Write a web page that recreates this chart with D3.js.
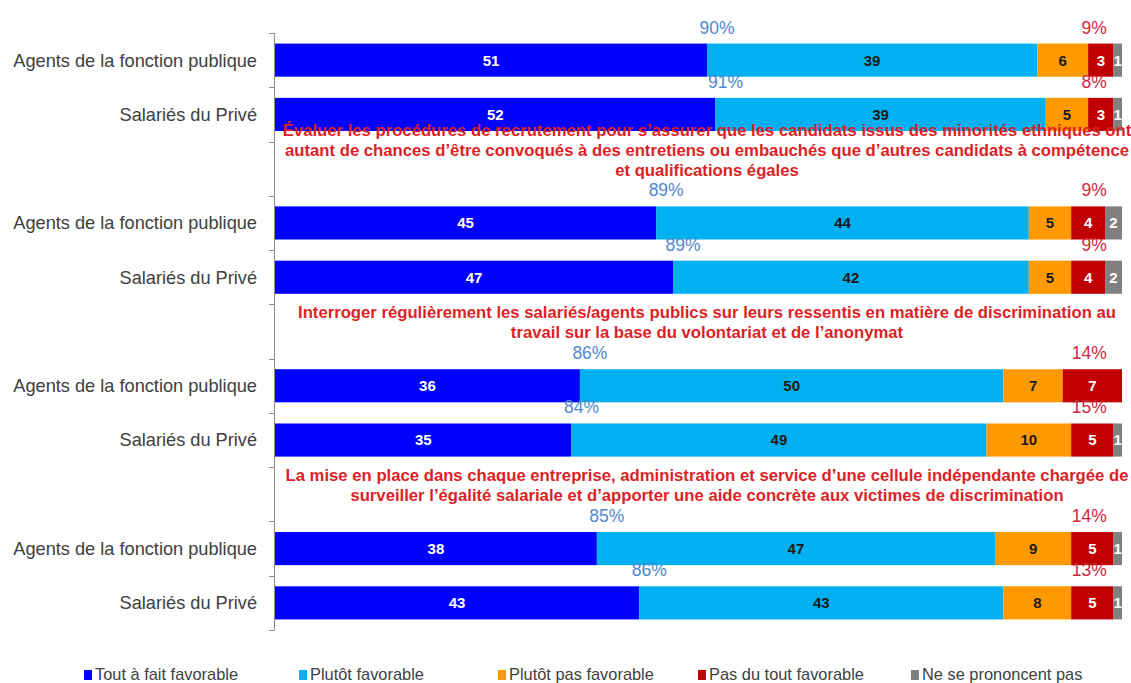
<!DOCTYPE html>
<html>
<head>
<meta charset="utf-8">
<script src="https://cdn.jsdelivr.net/npm/d3@7"></script>
<style>
  body { margin: 0; background: #fff; }
  .ylab { font-family: 'Liberation Sans', Arial, sans-serif; font-size: 18.2px; fill: #404040; }
  .seg-label { font-family: 'Liberation Sans', Arial, sans-serif; font-size: 15px; font-weight: bold; }
  .pct { font-family: 'Liberation Sans', Arial, sans-serif; font-size: 17.5px; }
  .header { font-family: 'Liberation Sans Narrow', 'Arial Narrow', sans-serif; font-size: 16.7px; font-weight: bold; fill: #dd1f26; }
  .legend text { font-family: 'Liberation Sans Narrow', 'Arial Narrow', sans-serif; font-size: 16.4px; fill: #404040; }
  .axis path, .axis line { stroke: #8c8c8c; }
</style>
</head>
<body>
<div id="chart"></div>
<script>
const series = ['Tout à fait favorable', 'Plutôt favorable', 'Plutôt pas favorable', 'Pas du tout favorable', 'Ne se prononcent pas']
const colors = ['#0000ff', '#00b0f0', '#ff9900', '#c00000', '#808080']
const labelColors = ['#ffffff', '#1a1a1a', '#1a1a1a', '#ffffff', '#ffffff']

// slots from top to bottom, header slots carry a question
const slots = ['a1', 'p1', 'h2', 'a2', 'p2', 'h3', 'a3', 'p3', 'h4', 'a4', 'p4']
const rowNames = ['Agents de la fonction publique', 'Salariés du Privé', null, 'Agents de la fonction publique', 'Salariés du Privé', null,
    'Agents de la fonction publique', 'Salariés du Privé', null, 'Agents de la fonction publique', 'Salariés du Privé']

const toutAFait = [51, 52, 45, 47, 36, 35, 38, 43]
const plutot = [39, 39, 44, 42, 50, 49, 47, 43]
const plutotPas = [6, 5, 5, 5, 7, 10, 9, 8]
const pasDuTout = [3, 3, 4, 4, 7, 5, 5, 5]
const nsp = [1, 1, 2, 2, 0, 1, 1, 1]
const totalFavorable = ['90%', '91%', '89%', '89%', '86%', '84%', '85%', '86%']
const totalDefavorable = ['9%', '8%', '9%', '9%', '14%', '15%', '14%', '13%']
const barSlots = ['a1', 'p1', 'a2', 'p2', 'a3', 'p3', 'a4', 'p4']

const headers = [
    { slot: 'h2', lines: ['Évaluer les procédures de recrutement pour s’assurer que les candidats issus des minorités ethniques ont',
        'autant de chances d’être convoqués à des entretiens ou embauchés que d’autres candidats à compétence',
        'et qualifications égales'] },
    { slot: 'h3', lines: ['Interroger régulièrement les salariés/agents publics sur leurs ressentis en matière de discrimination au',
        'travail sur la base du volontariat et de l’anonymat'] },
    { slot: 'h4', lines: ['La mise en place dans chaque entreprise, administration et service d’une cellule indépendante chargée de',
        'surveiller l’égalité salariale et d’apporter une aide concrète aux victimes de discrimination'] }
]

const width = 1131, height = 683
const layout = { left: 275, top: 33 }

const svg = d3.select('#chart').append('svg')
    .attr('width', width)
    .attr('height', height)

const g = svg.append('g').attr('transform', 'translate(' + layout.left + ',' + layout.top + ')')

const xScale = d3.scaleLinear().domain([0, 100]).range([0, 847])
const yScale = d3.scaleBand().domain(slots).range([0, 597]).paddingInner(0.39).paddingOuter(0.195)
const step = yScale.step()

// stacked data
const rows = barSlots.map((s, i) => ({
    slot: s,
    values: [toutAFait[i], plutot[i], plutotPas[i], pasDuTout[i], nsp[i]],
    fav: totalFavorable[i],
    def: totalDefavorable[i]
}))
rows.forEach(r => {
    let acc = 0
    r.segs = r.values.map((v, k) => { const s = { k, v, x0: acc, x1: acc + v }; acc += v; return s })
})

// axis with ticks on slot boundaries
const axisG = g.append('g').attr('class', 'axis')
axisG.append('path').attr('d', `M -0.5 0 V ${step * slots.length}`).attr('fill', 'none')
axisG.selectAll('line').data(d3.range(slots.length + 1)).enter().append('line')
    .attr('x1', -6).attr('x2', -0.5)
    .attr('y1', i => Math.round(i * step) + 0.5).attr('y2', i => Math.round(i * step) + 0.5)

g.selectAll('.ylab').data(slots.map((s, i) => ({ s, name: rowNames[i] })).filter(d => d.name)).enter()
    .append('text')
    .attr('class', 'ylab')
    .attr('x', -18)
    .attr('y', d => yScale(d.s) + yScale.bandwidth() / 2)
    .attr('dy', '0.35em')
    .attr('text-anchor', 'end')
    .text(d => d.name)

const barG = g.selectAll('.bar').data(rows).enter().append('g')
    .attr('class', 'bar')
    .attr('transform', d => `translate(0,${yScale(d.slot)})`)

barG.selectAll('rect').data(d => d.segs.filter(s => s.v > 0)).enter().append('rect')
    .attr('x', s => xScale(s.x0))
    .attr('width', s => xScale(s.x1) - xScale(s.x0))
    .attr('height', yScale.bandwidth())
    .attr('fill', s => colors[s.k])

barG.selectAll('.seg-label').data(d => d.segs.filter(s => s.v > 0)).enter().append('text')
    .attr('class', 'seg-label')
    .attr('x', s => (xScale(s.x0) + xScale(s.x1)) / 2)
    .attr('y', yScale.bandwidth() / 2)
    .attr('dy', '0.36em')
    .attr('text-anchor', 'middle')
    .attr('fill', s => labelColors[s.k])
    .text(s => s.v)

barG.append('text')
    .attr('class', 'pct')
    .attr('x', d => xScale(d.values[0]) + 10)
    .attr('y', -10)
    .attr('text-anchor', 'middle')
    .attr('fill', '#4f89cf')
    .text(d => d.fav)

barG.append('text')
    .attr('class', 'pct')
    .attr('x', xScale(98.2))
    .attr('y', -10)
    .attr('text-anchor', 'end')
    .attr('fill', '#d0283a')
    .text(d => d.def)

// question headers
headers.forEach(h => {
    const n = h.lines.length
    const cy = yScale(h.slot) + yScale.bandwidth() / 2 + 1
    g.append('text')
        .attr('class', 'header')
        .attr('text-anchor', 'middle')
        .selectAll('tspan').data(h.lines).enter().append('tspan')
        .attr('x', 432)
        .attr('y', (d, i) => cy - (n - 1 - i) * 20)
        .attr('dy', '0.35em')
        .text(d => d)
})

// legend
const legendX = [84, 299, 498, 698, 911]
const legend = svg.append('g').attr('class', 'legend')
    .attr('transform', 'translate(0,674)')
const item = legend.selectAll('g').data(series).enter().append('g')
    .attr('transform', (d, i) => `translate(${legendX[i]},0)`)
item.append('rect').attr('x', 0).attr('y', -4).attr('width', 8).attr('height', 10).attr('fill', (d, i) => colors[i])
item.append('text').attr('x', 11).attr('y', 0).attr('dy', '0.35em').text(d => d)
</script>
</body>
</html>
